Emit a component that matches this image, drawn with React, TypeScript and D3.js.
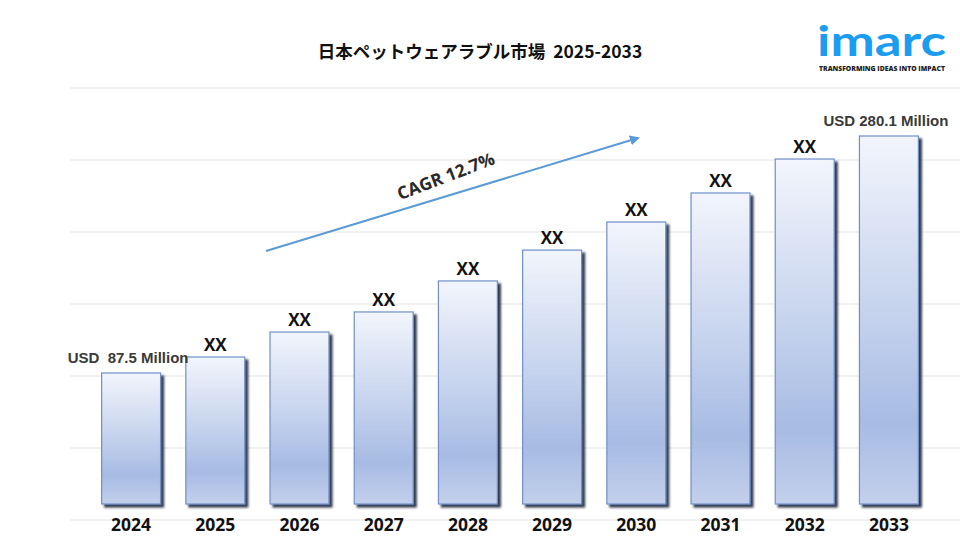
import * as d3 from "d3";

// 日本ペットウェアラブル市場 (USD Million) – intermediate years shown as "XX"
const years = ["2024", "2025", "2026", "2027", "2028", "2029", "2030", "2031", "2032", "2033"];
const values = [87.5, 100.5, 120.8, 137.1, 162.3, 187.4, 210.2, 233.8, 261.4, 280.1];
const barLabels = [
  "USD  87.5 Million", "XX", "XX", "XX", "XX", "XX", "XX", "XX", "XX", "USD 280.1 Million",
];
const gridSteps = [0, 1, 2, 3, 4, 5, 6];
const cagrText = "CAGR 12.7%";
const title = "日本ペットウェアラブル市場  2025-2033";

const W = 960;
const H = 540;
const floorY = 504;

export default function App() {
  const x = d3.scaleBand<string>().domain(years).range([89, 931]).paddingInner(0.3).paddingOuter(0.15);
  // bar tops follow the first and last labelled values
  const y = d3.scaleLinear().domain([87.5, 280.1]).range([373, 136]);
  const grid = d3.scaleLinear().domain([0, 6]).range([520, 88]);

  const bw = x.bandwidth();
  const arrow = { x1: 266, y1: 251, x2: 638, y2: 138 };
  const angle = (Math.atan2(arrow.y2 - arrow.y1, arrow.x2 - arrow.x1) * 180) / Math.PI;

  return (
    <div style={{ position: "absolute", left: 0, top: 0, width: W, height: H, background: "#fff" }}>
      <svg width={W} height={H} viewBox={`0 0 ${W} ${H}`}>
        <defs>
          <linearGradient id="barFill" x1="0" y1="0" x2="0" y2="1">
            <stop offset="0" stopColor="#f2f5fc" />
            <stop offset="0.45" stopColor="#c8d5ee" />
            <stop offset="0.78" stopColor="#a7bbe3" />
            <stop offset="1" stopColor="#c3d0ec" />
          </linearGradient>
          <filter id="barShadow" x="-20%" y="-5%" width="140%" height="115%">
            <feDropShadow dx="3" dy="3" stdDeviation="1.2" floodColor="#1c2b3c" floodOpacity="0.9" />
          </filter>
          <marker id="arrowHead" viewBox="0 0 10 10" refX="8" refY="5" markerWidth="5" markerHeight="5" orient="auto">
            <path d="M0,0 L10,5 L0,10 z" fill="#5b9bd5" />
          </marker>
        </defs>

        {/* gridlines */}
        {gridSteps.map((g) => (
          <line key={g} x1={70} x2={W} y1={grid(g)} y2={grid(g)} stroke="#e3e3e3" strokeWidth={1} />
        ))}

        {/* title */}
        <text
          x={480}
          y={58}
          textAnchor="middle"
          fontFamily="'Noto Sans CJK JP', 'Noto Sans', sans-serif"
          fontWeight={700}
          fontSize={17.5}
          fill="#111"
          style={{ whiteSpace: "pre" }}
        >
          {title}
        </text>

        {/* logo */}
        <g>
          <text
            x={817}
            y={56}
            fontFamily="Lato, 'Open Sans', sans-serif"
            fontWeight={700}
            fontSize={42}
            fill="#1a9cf0"
            textLength={129}
            lengthAdjust="spacingAndGlyphs"
          >
            imarc
          </text>
          <text
            x={819}
            y={71}
            fontFamily="'Open Sans', sans-serif"
            fontWeight={800}
            fontSize={6.4}
            fill="#222"
            textLength={126}
            lengthAdjust="spacingAndGlyphs"
          >
            TRANSFORMING IDEAS INTO IMPACT
          </text>
        </g>

        {/* bars */}
        {years.map((yr, i) => (
          <rect
            key={yr}
            x={x(yr)}
            y={y(values[i])}
            width={bw}
            height={floorY - y(values[i])}
            fill="url(#barFill)"
            stroke="#6f8fca"
            strokeWidth={1.2}
            filter="url(#barShadow)"
          />
        ))}

        {/* value labels */}
        {years.map((yr, i) => {
          const isUsd = barLabels[i].startsWith("USD");
          return (
            <text
              key={yr}
              x={(x(yr) ?? 0) + bw / 2 - (i === 0 ? 3 : i === years.length - 1 ? 3 : 0)}
              y={y(values[i]) - (isUsd ? 10 : 6)}
              textAnchor="middle"
              fontFamily={isUsd ? "'Liberation Sans', Arial, sans-serif" : "'Open Sans', sans-serif"}
              fontWeight={700}
              fontSize={isUsd ? 15 : 17}
              fill={isUsd ? "#3a3a3a" : "#111"}
              style={{ whiteSpace: "pre" }}
            >
              {barLabels[i]}
            </text>
          );
        })}

        {/* year labels */}
        {years.map((yr) => (
          <text
            key={yr}
            x={(x(yr) ?? 0) + bw / 2}
            y={531}
            textAnchor="middle"
            fontFamily="'Open Sans', sans-serif"
            fontWeight={700}
            fontSize={17.5}
            fill="#111"
          >
            {yr}
          </text>
        ))}

        {/* CAGR arrow */}
        <line
          x1={arrow.x1}
          y1={arrow.y1}
          x2={arrow.x2}
          y2={arrow.y2}
          stroke="#5b9bd5"
          strokeWidth={2}
          markerEnd="url(#arrowHead)"
        />
        <text
          transform={`translate(448,182) rotate(${angle - 4})`}
          textAnchor="middle"
          fontFamily="'Open Sans', sans-serif"
          fontWeight={700}
          fontSize={17.5}
          fill="#2a2a2a"
        >
          {cagrText}
        </text>
      </svg>
    </div>
  );
}
